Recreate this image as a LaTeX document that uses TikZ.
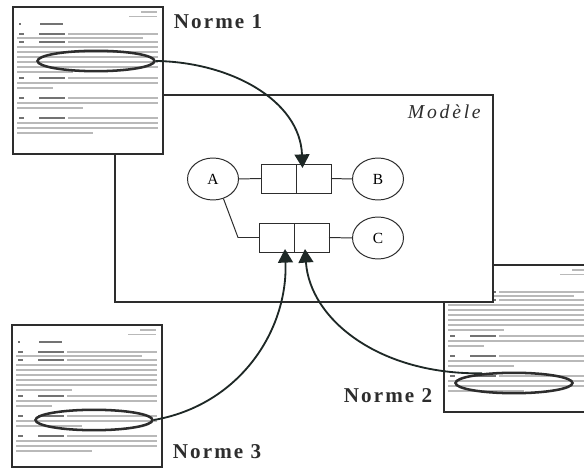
\documentclass[tikz,border=0pt]{standalone}
\usepackage{fontspec}
\setmainfont{Liberation Serif}
\newfontfamily\normefont[LetterSpace=10]{Liberation Serif}
\newfontfamily\modelefont[LetterSpace=14]{Liberation Serif}
\usepackage{xcolor}
\usepackage{tikz}
\usetikzlibrary{arrows.meta,calc,positioning,shapes.geometric}
\definecolor{inkline}{RGB}{45,45,45}
\definecolor{arrowink}{RGB}{30,40,38}
\definecolor{textgrey}{RGB}{185,185,185}
\definecolor{boldgrey}{RGB}{115,115,115}
\pgfdeclarelayer{behind}
\pgfsetlayers{behind,main}

\tikzset{
    docpage/.style={draw=inkline,line width=1.2pt,fill=white,anchor=north west,
        minimum width=37.5mm,minimum height=36.75mm,inner sep=0pt,outer sep=0pt},
    highlight/.style={ellipse,draw=inkline,line width=1.8pt,
        minimum width=29.25mm,minimum height=5.1mm,inner sep=0pt},
    modelebox/.style={draw=inkline,line width=1.3pt,fill=white,
        minimum width=94.5mm,minimum height=51.75mm,inner sep=0pt,outer sep=0pt},
    entity/.style={ellipse,draw=inkline,line width=0.7pt,
        minimum width=12.75mm,minimum height=10.5mm,inner sep=0pt,
        font=\fontsize{11}{13}\selectfont},
    cell/.style={draw=inkline,line width=0.7pt,minimum width=8.75mm,
        minimum height=7.25mm,inner sep=0pt,outer sep=0pt},
    normelabel/.style={font=\normefont\bfseries\fontsize{15}{18}\selectfont,
        text=inkline,inner sep=0pt},
    link/.style={draw=inkline,line width=0.7pt},
    feed/.style={draw=arrowink,line width=1.3pt,
        -{Triangle[width=3.7mm,length=3.4mm]}},
    textline/.style={draw=textgrey,line width=0.8pt},
    boldline/.style={draw=boldgrey,line width=0.9pt},
    pagetext/.pic={
        \draw[textline] (128,5) -- (144,5) (116,9.5) -- (144,9.5);
        \draw[boldline] (6,17) -- (8,17) (27,17) -- (50,17);
        \foreach \y/\a/\b in {27/55/145,31/4/130,35/55/145,40/4/145,45/4/145,
            50/4/145,55/4/145,60/4/145,65/4/60,71/55/145,76/4/145,81/4/40,
            91/55/145,96/4/145,101/4/70,111/55/145,116/4/145,121/4/145,126/4/80}
            \draw[textline] (\a,\y) -- (\b,\y);
        \foreach \y in {27,35,71,91,111}
            \draw[boldline] (6,\y) -- (11,\y) (26,\y) -- (52,\y);
    }
}

\begin{document}
\begin{tikzpicture}[x=0.25mm,y=-0.25mm]
    \clip (0,0) rectangle (584,470);

    % norme 2, sous le modele
    \begin{pgfonlayer}{behind}
        \fill[white] (0,0) rectangle (584,470);
        \node[docpage] (doc2) at (444,265) {};
        \pic at (doc2.north west) {pagetext};
        \node[highlight] (hl2) at ([shift={(70,118)}]doc2.north west) {};
    \end{pgfonlayer}

    % le modele
    \node[modelebox] (modele) at (304,198.5) {};
    \node[anchor=north east,inner sep=0pt,text=inkline,
        font=\modelefont\itshape\fontsize{14}{16}\selectfont]
        (modeletitle) at ([shift={(-12,10)}]modele.north east) {Modèle};

    \node[entity] (A) at (213,179) {A};
    \node[entity] (B) at (378,179) {B};
    \node[entity] (C) at (378,238) {C};
    \node[cell] (ab1) at (278.5,178.5) {};
    \node[cell,right=0pt of ab1] (ab2) {};
    \node[cell] (ac1) at (276.5,237.5) {};
    \node[cell,right=0pt of ac1] (ac2) {};

    \draw[link] (A.east) -- (ab1.west);
    \draw[link] (ab2.east) -- (B.west);
    \draw[link] (A.-62) -- ([xshift=-5.25mm]ac1.west) -- (ac1.west);
    \draw[link] (ac2.east) -- (C.west);

    % normes 1 et 3
    \node[docpage] (doc1) at (13,7) {};
    \pic at (doc1.north west) {pagetext};
    \node[highlight] (hl1) at ([shift={(83,54)}]doc1.north west) {};

    \node[docpage,minimum height=35.5mm] (doc3) at (12,325) {};
    \pic at (doc3.north west) {pagetext};
    \node[highlight] (hl3) at ([shift={(82,95)}]doc3.north west) {};

    \node[normelabel] (norme1) at (218,22) {Norme 1};
    \node[normelabel] (norme2) at (388,396) {Norme 2};
    \node[normelabel] (norme3) at (217,452) {Norme 3};

    % les renvois vers le modele
    \draw[feed] (hl1.east) .. controls (230,62) and (300,100) ..
        ([shift={(-11,4)}]ab2.north);
    \draw[feed] (hl3.east) .. controls (240,405) and (288,330) ..
        ([shift={(-9,-3)}]ac1.south east);
    \draw[feed] (hl2.163) .. controls (380,375) and (310,320) ..
        ([shift={(11,-3)}]ac2.south west);
\end{tikzpicture}
\end{document}
